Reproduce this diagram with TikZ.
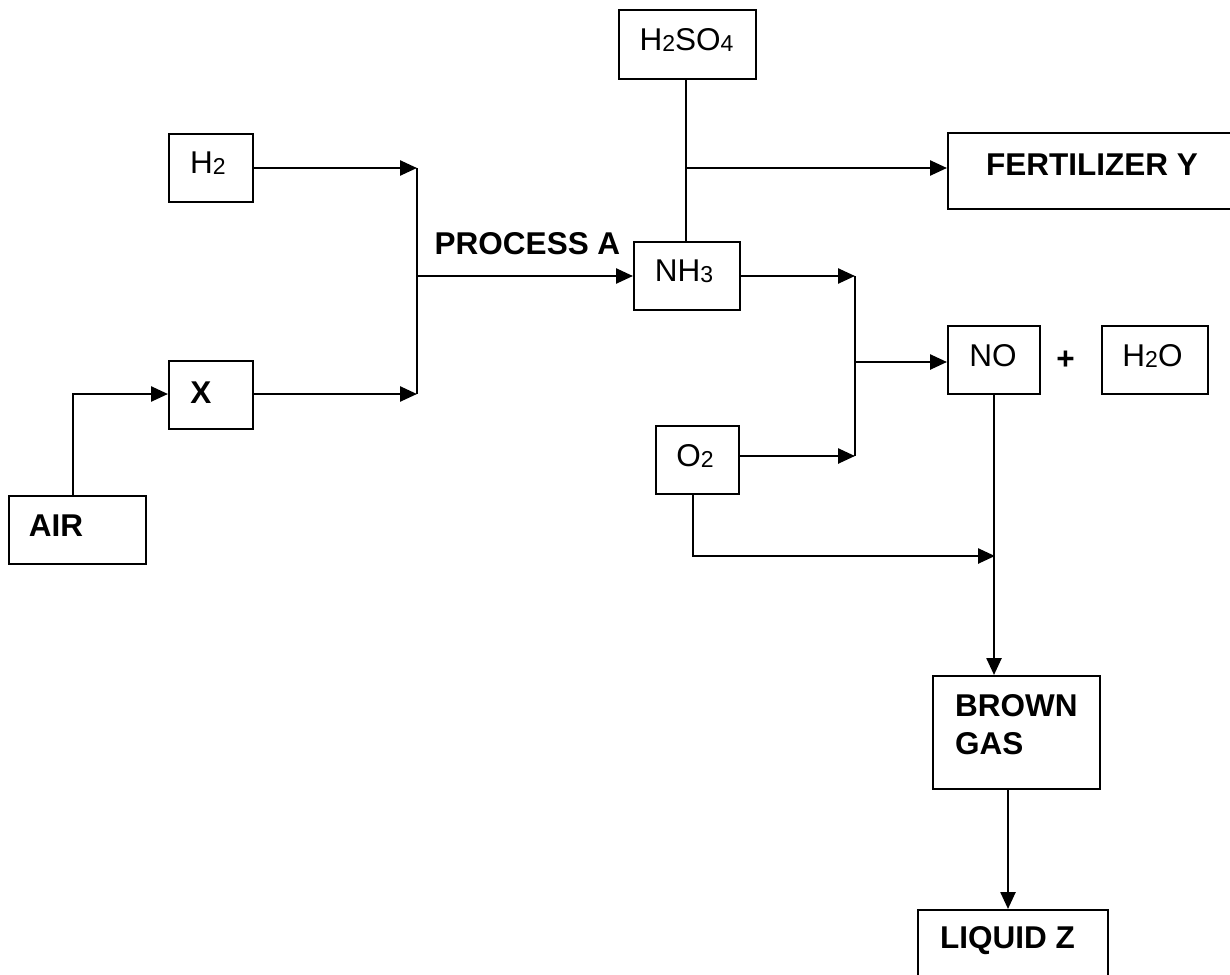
\documentclass[tikz,border=0pt]{standalone}
\usepackage{fontspec}
\setmainfont{Liberation Sans}
\usetikzlibrary{arrows.meta}
\newcommand\subs[1]{\raisebox{-1pt}{\fontsize{23}{27}\selectfont #1}}
\tikzset{
  box/.style={draw, line width=2pt, inner sep=0pt},
  txt/.style={inner sep=0pt, font=\fontsize{31.5}{37.5}\selectfont},
  btxt/.style={inner sep=0pt, font=\fontsize{31.5}{37.5}\selectfont\bfseries},
  ln/.style={line width=2.5pt},
  arr/.style={line width=2.5pt, -{Triangle[length=17pt,width=15pt]}}
}
\begin{document}
\begin{tikzpicture}[x=1pt,y=-1pt]
\useasboundingbox (0,0) rectangle (1230,974);
% boxes
\node[box, minimum width=137pt, minimum height=69pt] (h2so4) at (687.5,44.5) {};
\node[box, minimum width=84pt, minimum height=68pt] (h2) at (211,168) {};
\node[box, minimum width=287pt, minimum height=76pt] (fert) at (1091.5,171) {};
\node[box, minimum width=106pt, minimum height=68pt] (nh3) at (687,276) {};
\node[box, minimum width=84pt, minimum height=68pt] (x) at (211,395) {};
\node[box, minimum width=92pt, minimum height=68pt] (no) at (994,360) {};
\node[box, minimum width=106pt, minimum height=68pt] (h2o) at (1155,360) {};
\node[box, minimum width=83pt, minimum height=68pt] (o2) at (697.5,460) {};
\node[box, minimum width=137pt, minimum height=68pt] (air) at (77.5,530) {};
\node[box, minimum width=167pt, minimum height=113pt] (brown) at (1016.5,732.5) {};
\node[box, minimum width=190pt, minimum height=100pt] (liquid) at (1013,960) {};
% texts
\node[txt] (t-h2so4) at (686.5,40) {H\subs{2}SO\subs{4}};
\node[txt] (t-h2) at (208,163) {H\subs{2}};
\node[btxt] (t-fert) at (1092,165) {FERTILIZER Y};
\node[txt] (t-nh3) at (684,271.5) {NH\subs{3}};
\node[btxt] (t-x) at (201,392.5) {X};
\node[txt] (t-no) at (993,356) {NO};
\node[btxt] (plus) at (1065.5,360) {+};
\node[txt] (t-h2o) at (1152.5,356) {H\subs{2}O};
\node[txt] (t-o2) at (695,456) {O\subs{2}};
\node[btxt] (t-air) at (56,526) {AIR};
\node[btxt, align=left, anchor=north west] (t-brown) at (955,694.5) {BROWN\\GAS};
\node[btxt] (t-liquid) at (1007.5,941) {LIQUID Z};
\node[btxt] (t-proc) at (527.5,244) {PROCESS A};
% junction coordinates
\coordinate (j1a) at (417,168);
\coordinate (j1b) at (417,394);
\coordinate (j1m) at (417,276);
\coordinate (j2a) at (855,276);
\coordinate (j2b) at (855,456);
\coordinate (j2m) at (855,362);
\coordinate (fj) at (686,168);
\coordinate (j3) at (995,556);
% connectors
\draw[arr] (h2.east) -- (j1a);
\draw[arr] ([yshift=1pt]x.east) -- (j1b);
\draw[ln] (j1a) -- (j1b);
\draw[arr] (j1m) -- (nh3.west);
\draw[arr] ([xshift=-4.5pt]air.north) |- ([yshift=1pt]x.west);
\draw[ln] ([xshift=-1.5pt]h2so4.south) -- ([xshift=-1pt]nh3.north);
\draw[arr] (fj) -- (fert.west |- fj);
\draw[arr] (nh3.east) -- (j2a);
\draw[arr] ([yshift=4pt]o2.east) -- (j2b);
\draw[ln] (j2a) -- (j2b);
\draw[arr] (j2m) -- (no.west |- j2m);
\draw[arr] (no.south) -- (no.south |- brown.north);
\draw[arr] ([xshift=-4.5pt]o2.south) |- (j3);
\draw[arr] ([xshift=-8.5pt]brown.south) -- ([xshift=-8.5pt]brown.south |- liquid.north);
\end{tikzpicture}
\end{document}
